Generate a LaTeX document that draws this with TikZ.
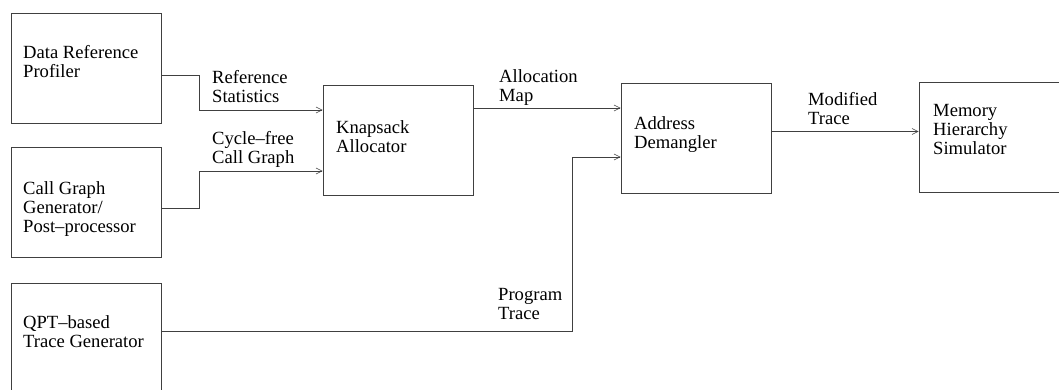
\documentclass[tikz,border=0pt]{standalone}
\usepackage{fontspec}
\setmainfont{Liberation Serif}
\usetikzlibrary{arrows.meta}
\tikzset{
    blk/.style={draw=black!75, line width=0.6pt, minimum width=150pt, minimum height=110pt, inner sep=0pt},
    txt/.style={anchor=north west, align=left, inner sep=0pt, font=\fontsize{18.6pt}{19pt}\selectfont},
    flow/.style={draw=black!75, line width=0.6pt, -{Straight Barb[length=6pt,width=6pt]}}
}
\begin{document}
\begin{tikzpicture}[x=1pt, y=-1pt]
        \useasboundingbox (0, 0) rectangle (1059, 390);

        \node[blk] (prof) at (86, 68) {};
        \node[blk] (cg) at (86, 202.5) {};
        \node[blk, minimum height=117pt] (qpt) at (86, 341.5) {};
        \node[blk] (knap) at (398, 140) {};
        \node[blk] (dem) at (696, 138) {};
        \node[blk] (mem) at (994, 137.5) {};

        \node[txt] (proft) at (23, 45.5) {Data Reference\\Profiler};
        \node[txt] (cgt) at (23, 181.5) {Call Graph\\Generator/\\Post--processor};
        \node[txt] (qptt) at (23, 315.5) {QPT--based\\Trace Generator};
        \node[txt] (knapt) at (336, 120.5) {Knapsack\\Allocator};
        \node[txt] (demt) at (634, 116.5) {Address\\Demangler};
        \node[txt] (memt) at (933, 104.5) {Memory\\Hierarchy\\Simulator};

        \node[txt] (rst) at (212, 70.5) {Reference\\Statistics};
        \node[txt] (cft) at (212, 131.5) {Cycle--free\\Call Graph};
        \node[txt] (amt) at (499, 69.5) {Allocation\\Map};
        \node[txt] (ptt) at (498, 288.5) {Program\\Trace};
        \node[txt] (mtt) at (808, 92.5) {Modified\\Trace};

        \coordinate (rs) at ([yshift=-7pt]prof.east);
        \coordinate (cs) at ([yshift=-5.5pt]cg.east);
        \coordinate (qs) at ([yshift=10.5pt]qpt.east);
        \coordinate (k1) at ([yshift=30pt]knap.west);
        \coordinate (k2) at ([yshift=-31pt]knap.west);
        \coordinate (d1) at ([yshift=30pt]dem.west);
        \coordinate (d2) at ([yshift=-19pt]dem.west);
        \coordinate (m1) at ([yshift=6pt]mem.west);

        \draw[flow] (rs) -- ++(38, 0) |- (k1);
        \draw[flow] (cs) -- ++(38, 0) |- (k2);
        \draw[flow] (knap.east |- d1) -- (d1);
        \draw[flow] (qs) -| ([xshift=-48pt]d2) -- (d2);
        \draw[flow] (dem.east |- m1) -- (m1);
    \end{tikzpicture}
\end{document}
